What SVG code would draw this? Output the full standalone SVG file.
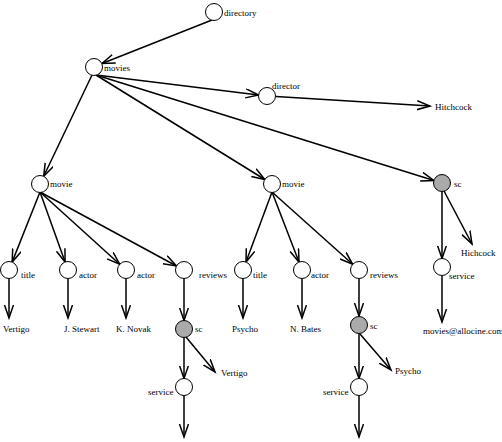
<svg xmlns="http://www.w3.org/2000/svg" width="502" height="442" viewBox="0 0 502 442">
<style>
.n{fill:#fff;stroke:#000;stroke-width:1}
.g{fill:#aaa;stroke:#000;stroke-width:1}
text{font-family:"Liberation Serif","Times New Roman",serif;font-size:9px;fill:#000}
.e{stroke:#000;stroke-width:1.5;fill:none;marker-end:url(#a)}
</style>
<defs>
<marker id="a" markerUnits="userSpaceOnUse" markerWidth="16" markerHeight="12" refX="13" refY="5" orient="auto">
<path d="M0,0.5 L13,5 L0,9.5" fill="none" stroke="#000" stroke-width="1.5"/>
</marker>
</defs>
<g id="connectors">
<line class="e" x1="212" y1="20" x2="102" y2="63.5"/>
<line class="e" x1="96" y1="75" x2="258.6" y2="95"/>
<line class="e" x1="276" y1="96.5" x2="430" y2="106"/>
<line class="e" x1="96" y1="75" x2="264.8" y2="179.5"/>
<line class="e" x1="96" y1="75" x2="433.9" y2="180.5"/>
<line class="e" x1="92" y1="75" x2="43.7" y2="176.3"/>
<line class="e" x1="40" y1="192" x2="12.1" y2="262.1"/>
<line class="e" x1="40" y1="192" x2="65.1" y2="262"/>
<line class="e" x1="40" y1="192" x2="119.7" y2="264.3"/>
<line class="e" x1="40" y1="192" x2="176.5" y2="266"/>
<line class="e" x1="9" y1="278.5" x2="9" y2="318"/>
<line class="e" x1="68" y1="278.5" x2="68" y2="318"/>
<line class="e" x1="126" y1="278.5" x2="126" y2="318"/>
<line class="e" x1="184" y1="278.5" x2="184" y2="320.5"/>
<line class="e" x1="184" y1="337.5" x2="184" y2="378.5"/>
<line class="e" x1="186" y1="337" x2="215" y2="372"/>
<line class="e" x1="184" y1="395.5" x2="184" y2="437"/>
<line class="e" x1="272" y1="192" x2="246" y2="262"/>
<line class="e" x1="272" y1="192" x2="299" y2="262"/>
<line class="e" x1="272" y1="192" x2="352.7" y2="264.3"/>
<line class="e" x1="243" y1="278.5" x2="243" y2="318"/>
<line class="e" x1="302" y1="278.5" x2="302" y2="318"/>
<line class="e" x1="359" y1="278.5" x2="359" y2="316"/>
<line class="e" x1="359" y1="333.5" x2="359" y2="378.5"/>
<line class="e" x1="360" y1="334" x2="391" y2="370"/>
<line class="e" x1="359" y1="395.5" x2="359" y2="437"/>
<line class="e" x1="442" y1="191.5" x2="442" y2="258.5"/>
<line class="e" x1="444" y1="191" x2="472" y2="244"/>
<line class="e" x1="442" y1="275.5" x2="442" y2="322"/>
</g>
<g id="directory"><circle class="n" cx="214" cy="12" r="8.5"/><text x="224" y="16">directory</text></g>
<g id="movies"><circle class="n" cx="94" cy="67" r="8.5"/><text x="104" y="71">movies</text></g>
<g id="director"><circle class="n" cx="267" cy="96" r="8.5"/><text x="272" y="89">director</text></g>
<g id="hitchcock1"><text x="435" y="110">Hitchcock</text></g>
<g id="movie1"><circle class="n" cx="40" cy="184" r="8.5"/><text x="50" y="187">movie</text></g>
<g id="movie2"><circle class="n" cx="272" cy="184" r="8.5"/><text x="282" y="187">movie</text></g>
<g id="sc3"><circle class="g" cx="442" cy="183" r="8.5"/><text x="454" y="187">sc</text></g>
<g id="hichcock"><text x="461" y="256">Hichcock</text></g>
<g id="service3"><circle class="n" cx="442" cy="267" r="8.5"/><text x="449" y="279">service</text></g>
<g id="allocine"><text x="423" y="334">movies@allocine.com</text></g>
<g id="title1"><circle class="n" cx="9" cy="270" r="8.5"/><text x="21" y="278">title</text></g>
<g id="actor1"><circle class="n" cx="68" cy="270" r="8.5"/><text x="79" y="278">actor</text></g>
<g id="actor2"><circle class="n" cx="126" cy="270" r="8.5"/><text x="137" y="278">actor</text></g>
<g id="reviews1"><circle class="n" cx="184" cy="270" r="8.5"/><text x="199" y="278">reviews</text></g>
<g id="title2"><circle class="n" cx="243" cy="270" r="8.5"/><text x="253" y="278">title</text></g>
<g id="actor3"><circle class="n" cx="302" cy="270" r="8.5"/><text x="311" y="278">actor</text></g>
<g id="reviews2"><circle class="n" cx="359" cy="270" r="8.5"/><text x="370" y="278">reviews</text></g>
<g id="vertigo1"><text x="3" y="332">Vertigo</text></g>
<g id="stewart"><text x="64" y="332">J. Stewart</text></g>
<g id="novak"><text x="116" y="332">K. Novak</text></g>
<g id="sc1"><circle class="g" cx="184" cy="329" r="8.5"/><text x="195" y="332">sc</text></g>
<g id="psycho1"><text x="232" y="332">Psycho</text></g>
<g id="bates"><text x="290" y="332">N. Bates</text></g>
<g id="sc2"><circle class="g" cx="359" cy="325" r="8.5"/><text x="370" y="329">sc</text></g>
<g id="vertigo2"><text x="221" y="376">Vertigo</text></g>
<g id="service1"><circle class="n" cx="184" cy="387" r="8.5"/><text x="148" y="395">service</text></g>
<g id="psycho2"><text x="395" y="374">Psycho</text></g>
<g id="service2"><circle class="n" cx="359" cy="387" r="8.5"/><text x="323" y="395">service</text></g>
</svg>
